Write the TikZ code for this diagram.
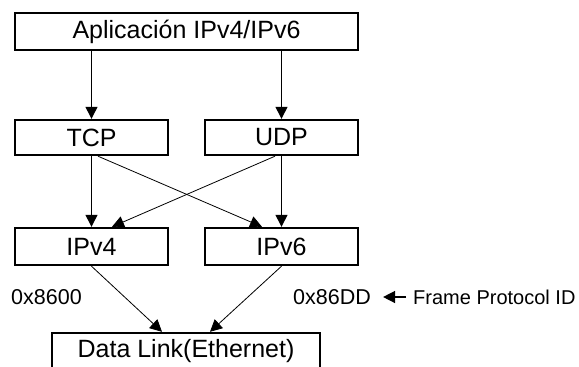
\documentclass[tikz,border=0pt]{standalone}
\usepackage{fontspec}
\setmainfont{Liberation Sans}
\usetikzlibrary{arrows.meta}

\begin{document}
\begin{tikzpicture}[x=1pt,y=-1pt,
  layer/.style={draw,line width=2.4pt,fill=white,inner sep=0pt,font=\fontsize{25}{28}\selectfont},
  arr/.style={-{Triangle[length=12pt,width=12pt]},line width=1.3pt},
  thinarr/.style={-{Triangle[length=12pt,width=12pt]},line width=0.8pt},
  lbl/.style={anchor=west,inner sep=0pt,font=\fontsize{20}{24}\selectfont}]
\useasboundingbox (0,0) rectangle (579,367);
\clip (0,0) rectangle (579,367);
\node[layer,minimum width=343pt,minimum height=37pt] (app) at (186.5,31.5) {Aplicación IPv4/IPv6};
\node[layer,minimum width=153pt,minimum height=35pt] (tcp) at (91.5,137.5) {TCP};   \node[layer,minimum width=153pt,minimum height=35pt] (udp) at (281.5,137.5) {UDP};
\node[layer,minimum width=153pt,minimum height=37pt] (ipa) at (91.5,246.5) {IPv4};  \node[layer,minimum width=153pt,minimum height=37pt] (ipb) at (281.5,246.5) {IPv6};
\node[layer,minimum width=268pt,minimum height=37pt] (link) at (186,351.5) {Data Link(Ethernet)};
\node[lbl,font=\fontsize{21.5}{24}\selectfont] (hexa) at (11,297) {0x8600};
\node[lbl,font=\fontsize{21.5}{24}\selectfont] (hexb) at (293,297) {0x86DD};
\node[lbl] (fpid) at (413,297) {Frame Protocol ID};
\draw[arr] (tcp.north |- app.south) to (tcp.north);
\draw[arr] (udp.north |- app.south) to (udp.north);
\draw[arr] (tcp.south) to (ipa.north);
\draw[arr] (udp.south) to (ipb.north);
\draw[thinarr] ([xshift=6.5pt]tcp.south) to ([xshift=-19.5pt]ipb.north);
\draw[thinarr] ([xshift=-6.5pt]udp.south) to ([xshift=20.5pt]ipa.north);
\draw[thinarr] (ipa.south) to ([xshift=-24pt]link.north);
\draw[thinarr] (ipb.south) to ([xshift=24pt]link.north);
\draw[thinarr,line width=1.4pt,shorten <=7pt,shorten >=12pt] (fpid.west) to (hexb.east);
\end{tikzpicture}
\end{document}
